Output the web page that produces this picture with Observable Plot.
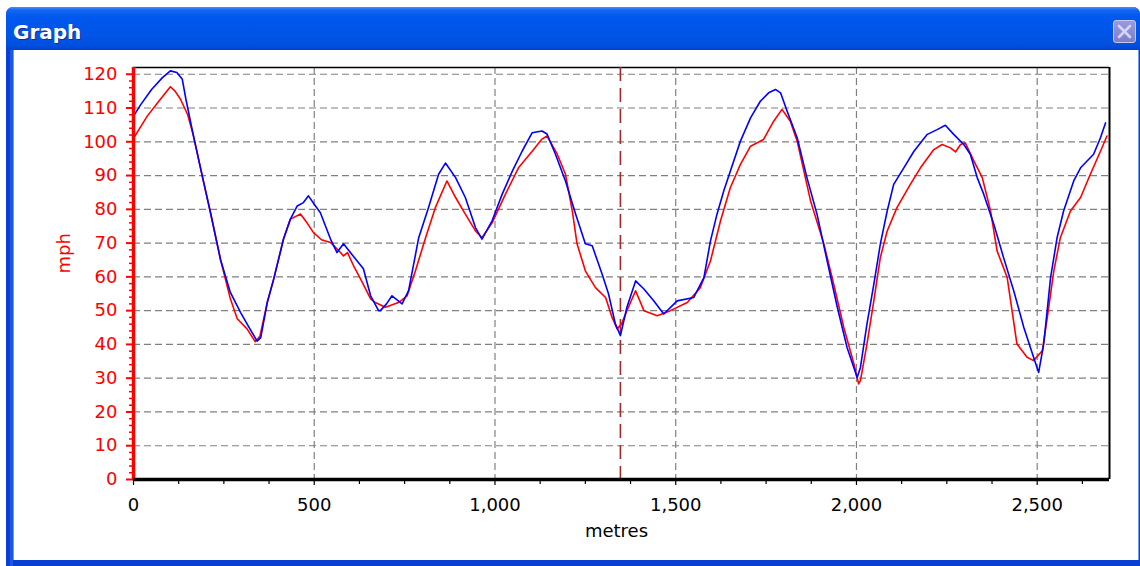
<!DOCTYPE html>
<html>
<head>
<meta charset="utf-8">
<script src="https://cdn.jsdelivr.net/npm/d3@7"></script>
<script src="https://cdn.jsdelivr.net/npm/@observablehq/plot@0.6"></script>
<style>
  html, body { margin: 0; padding: 0; background: #fff; width: 1140px; height: 566px; overflow: hidden; }
  #win { position: absolute; left: 6px; top: 7px; width: 1134px; height: 559px;
         background: #0a3fd4; border-radius: 7px 7px 0 0; }
  #title { position: absolute; left: 0; top: 0; width: 100%; height: 43px; border-radius: 7px 7px 0 0;
           background: linear-gradient(#4a90fa 0%, #1565f2 7%, #0058ee 22%, #0055e8 60%, #0050df 88%, #0044cc 100%);
           color: #fff; font: bold 20px "DejaVu Sans", sans-serif; line-height: 26px; padding: 12px 0 0 7px; box-sizing: border-box;
           text-shadow: 1px 1px 0 #0a2e9a; }
  #close { position: absolute; left: 1107px; top: 13px; width: 23px; height: 23px; border-radius: 3px;
           background: linear-gradient(#9a9ae0, #7d7dcc); border: 1px solid #c9c9f0; box-sizing: border-box; }
  #close svg { position: absolute; left: 0; top: 0; }
  #client { position: absolute; left: 8px; top: 43px; width: 1124px; height: 510px; background: #fff;
            box-shadow: -1px 0 0 #6f9cf2, 1px 0 0 #6f9cf2; }
  #leftedge { position: absolute; left: 4px; top: 43px; width: 3px; height: 516px; background: #1e57e6; }
</style>
</head>
<body>
<div id="win">
  <div id="title">Graph</div>
  <div id="close"><svg width="21" height="21"><path d="M5 5 L16 16 M16 5 L5 16" stroke="#d4d4f4" stroke-width="2.6" stroke-linecap="round"/></svg></div>
  <div id="leftedge"></div>
  <div id="client"></div>
</div>
<script>
// ---- data ----
const metresRed = [0,38,70,102,115,130,150,166,190,213,241,268,287,314,337,350,370,388,415,434,462,480,498,520,545,570,581,592,610,628,656,669,697,733,757,780,808,835,867,891,918,946,964,992,1029,1065,1103,1130,1144,1172,1195,1214,1227,1250,1278,1306,1324,1338,1350,1365,1389,1412,1449,1485,1532,1568,1596,1624,1651,1679,1707,1743,1771,1794,1817,1836,1873,1910,1937,1965,1993,2006,2011,2029,2048,2066,2085,2112,2149,2177,2214,2237,2260,2274,2288,2301,2325,2348,2371,2389,2417,2444,2472,2490,2514,2528,2546,2564,2592,2620,2647,2675,2693];
const mphRed = [101,107.6,112,116.3,115,112.6,108,101.7,90,79,65,53.5,47.6,44.6,40.8,42.5,52.4,59.4,71.2,77.1,78.6,76,73.1,71,70.2,67.5,66.2,67.2,63,59.4,53.5,52.4,51,52.4,54.4,61.8,71.6,80.5,88.4,83.5,78.6,73.6,71.6,76,84.5,92.3,97.2,100.8,101.7,96.4,90.4,79.5,69.8,61.8,56.8,53.9,48,44.6,46,50,55.9,50,48.5,50,52.4,56.8,64.7,76.6,86.4,93.3,98.7,100.7,106.1,109.6,106.1,100.2,82.5,69.7,57.8,45,34.2,28.3,29.3,40.1,52.9,65.7,73.6,80.5,87.4,92.3,97.7,99.2,98.2,97,99.2,99.7,94.3,89.4,79.5,67.7,59.8,40.1,36.2,35.2,38.1,48,61.8,71.6,79.5,83.5,90.4,97.2,101.7];

const metresBlue = [0,20,50,80,102,120,135,145,166,190,213,241,268,296,320,342,352,370,388,415,434,453,470,484,500,517,545,563,581,600,636,656,678,683,700,715,743,761,789,816,844,863,891,918,946,964,992,1020,1048,1075,1103,1130,1144,1167,1195,1223,1250,1269,1296,1314,1333,1347,1365,1389,1412,1439,1467,1504,1550,1578,1596,1614,1633,1651,1679,1707,1734,1757,1776,1790,1808,1836,1863,1891,1919,1947,1974,2002,2011,2029,2048,2066,2085,2103,2131,2159,2196,2223,2246,2269,2297,2315,2334,2352,2380,2407,2435,2463,2490,2504,2518,2537,2555,2573,2601,2620,2656,2675,2689];
const mphBlue = [107.6,111,115.5,119,121,120.5,118.5,112.6,101.7,90,79,65,55.4,49.5,45,41,42,52.4,59.4,71.2,77.1,81,82,84,81.5,79,71.2,67.2,69.8,67.2,62.4,54.4,50,50,52,54.4,52,55.9,71.6,80.5,90.4,93.7,89.4,83.5,74.6,71.2,76.6,84.5,91.3,97.2,102.7,103.2,102.3,96.4,88.4,78.6,69.8,69.2,60.9,55,46.1,42.6,51,58.8,56.4,52.9,49,52.9,53.9,59.8,70.6,78.5,85.5,91.3,100.2,107.1,112,114.5,115.5,114.5,109.1,101.2,89.4,78.5,64.7,51,39.1,30.2,33.2,46,57.8,69.7,79.5,87.4,92.3,97.2,102.2,103.6,104.9,102.2,99.2,96.3,89.4,84.5,75.6,65.7,55.9,45,36.2,31.7,40.1,59.8,71.6,79.5,88.4,92.3,96.3,101.2,105.6];

const cursorMetres = [1347];
const xTicks = [0, 500, 1000, 1500, 2000, 2500];
const xMinorTicks = [125,250,375,625,750,875,1125,1250,1375,1625,1750,1875,2125,2250,2375,2625];
const yTicks = [0,10,20,30,40,50,60,70,80,90,100,110,120];
const yGrid = [10,20,30,40,50,60,70,80,90,100,110,120];
const xGrid = [500,1000,1500,2000,2500];
const yMinorTicks = d3.range(0, 122, 2).filter(v => v % 10 !== 0);
const xLabel = "metres";
const yLabel = "mph";

const red = metresRed.map((m, i) => ({metres: m, mph: mphRed[i]}));
const blue = metresBlue.map((m, i) => ({metres: m, mph: mphBlue[i]}));

const chart = Plot.plot({
  width: 1124,
  height: 510,
  marginLeft: 119,
  marginRight: 29,
  marginTop: 17,
  marginBottom: 81,
  style: {fontFamily: "'DejaVu Sans', sans-serif", fontSize: "18px", background: "white", color: "black"},
  x: {domain: [0, 2700]},
  y: {domain: [0, 122]},
  marks: [
    Plot.gridY(yGrid, {stroke: "#808080", strokeOpacity: 1, strokeDasharray: "7,4", strokeWidth: 1.2}),
    Plot.gridX(xGrid, {stroke: "#808080", strokeOpacity: 1, strokeDasharray: "7,4", strokeWidth: 1.2}),
    Plot.ruleY([122], {stroke: "black", strokeWidth: 1.5}),
    Plot.ruleX([2700], {stroke: "black", strokeWidth: 2}),
    Plot.ruleX(cursorMetres, {stroke: "#9e2a2b", strokeWidth: 1.6, strokeDasharray: "14,7"}),
    Plot.line(red, {x: "metres", y: "mph", stroke: "#ff0000", strokeWidth: 1.6}),
    Plot.line(blue, {x: "metres", y: "mph", stroke: "#0000ff", strokeWidth: 1.6}),
    Plot.axisY(yMinorTicks, {tickSize: 4, tickFormat: () => "", stroke: "red", strokeWidth: 1.5, label: null}),
    Plot.axisY(yTicks, {tickSize: 7, tickPadding: 9, stroke: "red", fill: "red", strokeWidth: 2, label: null}),
    Plot.axisX(xMinorTicks, {tickSize: 5, tickFormat: () => "", stroke: "black", strokeWidth: 1.2, label: null}),
    Plot.axisX(xTicks, {tickSize: 6, tickPadding: 13, tickFormat: d3.format(","), stroke: "black", fill: "black", strokeWidth: 1.2, label: null}),
    Plot.ruleX([0], {stroke: "red", strokeWidth: 3.5}),
    Plot.ruleY([0], {stroke: "black", strokeWidth: 3.5}),
    Plot.text([yLabel], {frameAnchor: "left", dx: -69, rotate: -90, fill: "red", fontSize: 18}),
    Plot.text([xLabel], {frameAnchor: "bottom", dy: 57, dx: -5, fill: "black", fontSize: 18})
  ]
});
document.getElementById("client").appendChild(chart);
</script>
</body>
</html>
